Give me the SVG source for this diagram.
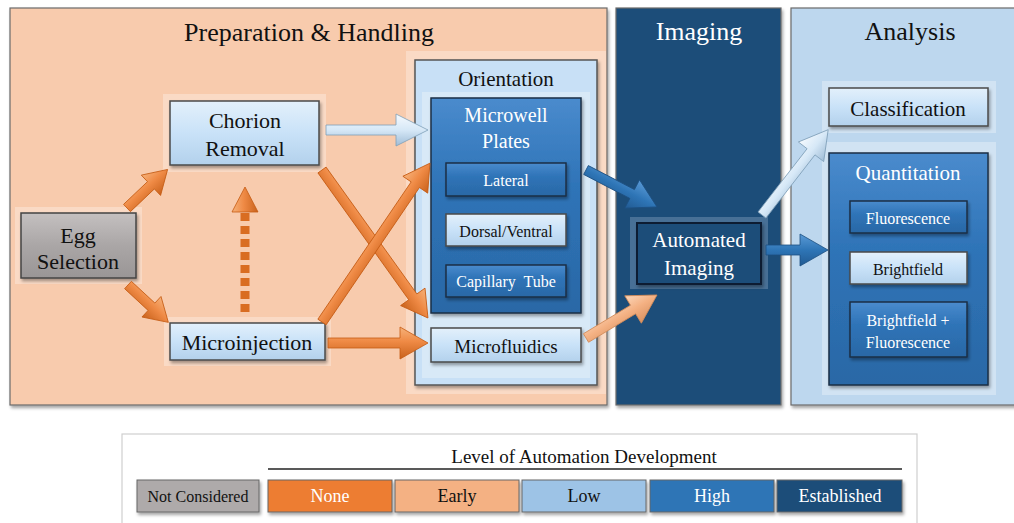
<svg xmlns="http://www.w3.org/2000/svg" width="1014" height="523" viewBox="0 0 1014 523" font-family="'Liberation Serif', 'Times New Roman', Tinos, 'DejaVu Serif', serif">
  <defs>
    <style>
      text { font-family: "Liberation Serif", "Times New Roman", Tinos, "DejaVu Serif", serif; text-anchor: middle; }
      .title { font-size: 26px; }
      .big { font-size: 22px; }
      .mid { font-size: 20px; }
      .small { font-size: 16px; }
      .leg { font-size: 18px; }
      .dark { fill: #111; }
      .white { fill: #fff; }
      .panel { stroke: #6b6b6b; stroke-width: 1.2; filter: url(#shadow); }
      .halo { fill: #ffffff; opacity: 0.3; }
      .light { fill: url(#gLight); stroke: #4a4a4a; stroke-width: 1.5; filter: url(#shadow); }
      .blue { fill: url(#gBlue); stroke: #1d2f45; stroke-width: 1.5; filter: url(#shadow); }
      .grey { fill: url(#gGrey); stroke: #444; stroke-width: 1.5; filter: url(#shadow); }
      .orange { fill: url(#gOrange); stroke: #c55a11; stroke-width: 0.8; }
      .peach { fill: url(#gPeach); stroke: #d28a58; stroke-width: 0.8; }
      .sky { fill: url(#gSky); stroke: #7f9fb8; stroke-width: 0.8; }
      .deep { fill: url(#gDeep); stroke: #1c4f80; stroke-width: 0.8; }
    </style>
    <filter id="shadow" x="-10%" y="-10%" width="125%" height="130%">
      <feDropShadow dx="1.5" dy="2.5" stdDeviation="1.5" flood-color="#000" flood-opacity="0.35"/>
    </filter>
    <linearGradient id="gLight" x1="0" y1="0" x2="0" y2="1">
      <stop offset="0" stop-color="#e3f0fb"/>
      <stop offset="0.5" stop-color="#c9e2f8"/>
      <stop offset="1" stop-color="#b3d1ec"/>
    </linearGradient>
    <linearGradient id="gBlue" x1="0" y1="0" x2="0" y2="1">
      <stop offset="0" stop-color="#4a8bcd"/>
      <stop offset="0.4" stop-color="#2f74b8"/>
      <stop offset="1" stop-color="#2a68a6"/>
    </linearGradient>
    <linearGradient id="gGrey" x1="0" y1="0" x2="0" y2="1">
      <stop offset="0" stop-color="#c4c0c0"/>
      <stop offset="0.5" stop-color="#aaa6a6"/>
      <stop offset="1" stop-color="#9a9696"/>
    </linearGradient>
    <linearGradient id="gOrange" x1="0" y1="0" x2="0" y2="1">
      <stop offset="0" stop-color="#f6b27a"/>
      <stop offset="0.45" stop-color="#ef8a45"/>
      <stop offset="1" stop-color="#c9621c"/>
    </linearGradient>
    <linearGradient id="gPeach" x1="0" y1="0" x2="0" y2="1">
      <stop offset="0" stop-color="#fbd7bb"/>
      <stop offset="0.5" stop-color="#f4b183"/>
      <stop offset="1" stop-color="#d99262"/>
    </linearGradient>
    <linearGradient id="gSky" x1="0" y1="0" x2="0" y2="1">
      <stop offset="0" stop-color="#f6fafe"/>
      <stop offset="0.5" stop-color="#d6e8f7"/>
      <stop offset="1" stop-color="#9fbcd6"/>
    </linearGradient>
    <linearGradient id="gDeep" x1="0" y1="0" x2="0" y2="1">
      <stop offset="0" stop-color="#5a9ad6"/>
      <stop offset="0.5" stop-color="#2e75b6"/>
      <stop offset="1" stop-color="#215a92"/>
    </linearGradient>
  </defs>

  <rect x="0" y="0" width="1014" height="523" fill="#ffffff"/>

  <!-- stage panels -->
  <g id="panel-preparation">
    <rect class="panel" x="10" y="8" width="597" height="397" fill="#f8cbad"/>
    <text class="title dark" x="309" y="41">Preparation &amp; Handling</text>
  </g>
  <g id="panel-imaging">
    <rect class="panel" x="616" y="8" width="165" height="397" fill="#1f4e79"/>
    <text class="title white" x="699" y="40">Imaging</text>
  </g>
  <g id="panel-analysis">
    <rect class="panel" x="791" y="8" width="226" height="397" fill="#bdd7ee"/>
    <text class="title dark" x="910" y="40">Analysis</text>
  </g>

  <!-- preparation nodes -->
  <g id="node-chorion">
    <rect class="halo" x="163" y="94" width="163" height="78"/>
    <rect class="light" x="170" y="101" width="149" height="64"/>
    <text class="big dark" x="245" y="128">Chorion</text>
    <text class="big dark" x="245" y="156">Removal</text>
  </g>
  <g id="node-egg">
    <rect class="halo" x="15" y="207" width="127" height="77"/>
    <rect class="grey" x="21" y="213" width="115" height="65"/>
    <text class="big dark" x="78" y="243">Egg</text>
    <text class="big dark" x="78" y="269">Selection</text>
  </g>
  <g id="node-microinjection">
    <rect class="halo" x="164" y="317" width="167" height="49"/>
    <rect class="light" x="170" y="323" width="155" height="37"/>
    <text class="big dark" x="247" y="350">Microinjection</text>
  </g>

  <!-- orientation group -->
  <g id="node-orientation">
    <rect class="halo" x="406" y="51" width="200" height="343"/>
    <rect x="415" y="60" width="182" height="325" fill="#c8e0f6" stroke="#555" stroke-width="1.5" filter="url(#shadow)"/>
    <rect x="422" y="92" width="168" height="286" fill="#dcebf8" opacity="0.8"/>
    <text class="dark" x="506" y="86" style="font-size:21px">Orientation</text>
  </g>
  <g id="node-microwell">
    <rect class="blue" x="431" y="98" width="150" height="215"/>
    <text class="mid white" x="506" y="122">Microwell</text>
    <text class="mid white" x="506" y="148">Plates</text>
  </g>
  <g id="node-lateral">
    <rect class="blue" x="446" y="163" width="120" height="33"/>
    <text class="small white" x="506" y="186">Lateral</text>
  </g>
  <g id="node-dorsal">
    <rect class="light" x="446" y="214" width="120" height="32"/>
    <text class="small dark" x="506" y="237">Dorsal/Ventral</text>
  </g>
  <g id="node-capillary">
    <rect class="blue" x="446" y="265" width="120" height="32"/>
    <text class="small white" x="506" y="287" style="white-space:pre">Capillary  Tube</text>
  </g>
  <g id="node-microfluidics">
    <rect class="light" x="431" y="328" width="150" height="34"/>
    <text class="dark" x="506" y="353" style="font-size:19px">Microfluidics</text>
  </g>

  <!-- imaging node -->
  <g id="node-automated">
    <rect x="630" y="217" width="138" height="72" fill="#5b7fa3" opacity="0.7"/>
    <rect x="637" y="223" width="124" height="61" fill="#1f4e79" stroke="#0d1f33" stroke-width="2" filter="url(#shadow)"/>
    <text class="white" x="699" y="247" style="font-size:21px">Automated</text>
    <text class="white" x="699" y="275" style="font-size:21px">Imaging</text>
  </g>

  <!-- analysis nodes -->
  <g id="node-classification">
    <rect class="halo" x="822" y="81" width="174" height="52"/>
    <rect class="light" x="829" y="88" width="159" height="38"/>
    <text class="dark" x="908" y="116" style="font-size:21px">Classification</text>
  </g>
  <g id="node-quantitation">
    <rect class="halo" x="822" y="142" width="174" height="253"/>
    <rect class="blue" x="829" y="153" width="159" height="232"/>
    <text class="white" x="908" y="180" style="font-size:21px">Quantitation</text>
  </g>
  <g id="node-fluorescence">
    <rect class="blue" x="850" y="201" width="117" height="32"/>
    <text class="small white" x="908" y="224">Fluorescence</text>
  </g>
  <g id="node-brightfield">
    <rect class="light" x="850" y="252" width="117" height="32"/>
    <text class="small dark" x="908" y="275">Brightfield</text>
  </g>
  <g id="node-combined">
    <rect class="blue" x="850" y="302" width="117" height="55"/>
    <text class="small white" x="908" y="326">Brightfield +</text>
    <text class="small white" x="908" y="348">Fluorescence</text>
  </g>

  <!-- connectors: block arrows drawn along +x, then placed -->
  <g id="connectors">
    <!-- Egg Selection -> Chorion Removal -->
    <path class="orange" transform="translate(127,208) rotate(-43.5)" d="M0,-5 L33,-5 L33,-14 L56,0 L33,14 L33,5 L0,5 Z"/>
    <!-- Egg Selection -> Microinjection -->
    <path class="orange" transform="translate(128,285) rotate(42.8)" d="M0,-5 L32,-5 L32,-14 L55,0 L32,14 L32,5 L0,5 Z"/>
    <!-- Microinjection -> Chorion Removal (optional, dashed) -->
    <g transform="translate(245,312) rotate(-90)">
      <line x1="0" y1="0" x2="100" y2="0" stroke="#d96d22" stroke-width="9" stroke-dasharray="8,5"/>
      <path class="orange" d="M100,-13 L125,0 L100,13 Z"/>
    </g>
    <!-- Chorion Removal -> Microwell Plates -->
    <path class="sky" transform="translate(326,130)" d="M0,-5 L70,-5 L70,-16 L102,0 L70,16 L70,5 L0,5 Z"/>
    <!-- Chorion Removal -> Microfluidics -->
    <path class="orange" transform="translate(322,170) rotate(54.4)" d="M0,-5 L156,-5 L156,-15 L182,0 L156,15 L156,5 L0,5 Z"/>
    <!-- Microinjection -> Microwell Plates -->
    <path class="orange" transform="translate(322,322) rotate(-55.8)" d="M0,-5 L166,-5 L166,-15 L192,0 L166,15 L166,5 L0,5 Z"/>
    <!-- Microinjection -> Microfluidics -->
    <path class="orange" transform="translate(328,343)" d="M0,-5 L72,-5 L72,-16 L100,0 L72,16 L72,5 L0,5 Z"/>
    <!-- Microwell Plates -> Automated Imaging -->
    <path class="deep" transform="translate(586,170) rotate(27.5)" d="M0,-5 L52,-5 L52,-16 L80,0 L52,16 L52,5 L0,5 Z"/>
    <!-- Microfluidics -> Automated Imaging -->
    <path class="peach" transform="translate(586,338) rotate(-31.2)" d="M0,-5 L55,-5 L55,-16 L83,0 L55,16 L55,5 L0,5 Z"/>
    <!-- Automated Imaging -> Classification -->
    <path class="sky" transform="translate(762,215) rotate(-52.2)" d="M0,-5 L80,-5 L80,-16 L108,0 L80,16 L80,5 L0,5 Z"/>
    <!-- Automated Imaging -> Quantitation -->
    <path class="deep" transform="translate(766,250)" d="M0,-5 L34,-5 L34,-16 L62,0 L34,16 L34,5 L0,5 Z"/>
  </g>

  <!-- legend -->
  <g id="legend">
    <rect x="122" y="434" width="795" height="100" fill="#ffffff" stroke="#cfcfcf" stroke-width="1.2"/>
    <text class="dark" x="584" y="463" style="font-size:19px">Level of Automation Development</text>
    <line x1="268" y1="469" x2="902" y2="469" stroke="#222" stroke-width="1.5"/>
    <g filter="url(#shadow)" stroke="#666" stroke-width="1">
      <rect x="137" y="480" width="122" height="32" fill="#aeaaaa"/>
      <rect x="268" y="480" width="124" height="32" fill="#ed7d31"/>
      <rect x="395" y="480" width="124" height="32" fill="#f4b183"/>
      <rect x="522" y="480" width="124" height="32" fill="#9dc3e6"/>
      <rect x="650" y="480" width="124" height="32" fill="#2e75b6"/>
      <rect x="777" y="480" width="125" height="32" fill="#1f4e79"/>
    </g>
    <text class="dark" x="198" y="502" style="font-size:16px">Not Considered</text>
    <text class="leg white" x="330" y="502">None</text>
    <text class="leg dark" x="457" y="502">Early</text>
    <text class="leg dark" x="584" y="502">Low</text>
    <text class="leg white" x="712" y="502">High</text>
    <text class="leg white" x="840" y="502">Established</text>
  </g>
</svg>
